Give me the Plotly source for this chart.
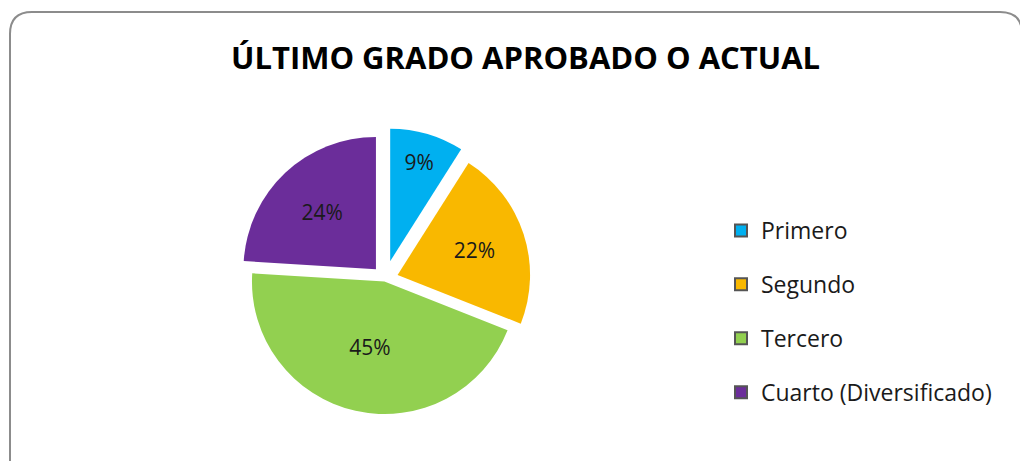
import plotly.graph_objects as go

categories = ["Primero", "Segundo", "Tercero", "Cuarto (Diversificado)"]
values = [9, 22, 45, 24]
colors = ["#00B0F0", "#F9B800", "#92D050", "#6B2D9A"]
pulls = [0.14, 0.1, 0.02, 0.1]
title_text = "ÚLTIMO GRADO APROBADO O ACTUAL"

W, H = 1028, 461
OFF = 8  # default page body margin


def px(x):
    return (x - OFF) / W


def py(y):
    return 1 - (y - OFF) / H


fig = go.Figure()
fig.add_trace(go.Pie(
    labels=categories, values=values, sort=False, direction="clockwise", rotation=0,
    marker=dict(colors=colors, line=dict(color="white", width=0)),
    pull=pulls, showlegend=False,
    texttemplate="%{percent:.0%}", textposition="inside", insidetextorientation="horizontal",
    textfont=dict(family="Open Sans", size=21, color="#1a1a1a"),
    hoverinfo="label+percent",
    domain=dict(x=[px(215), px(555)], y=[py(430), py(128)]),
))

for c, col in zip(categories, colors):
    fig.add_trace(go.Scatter(
        x=[None], y=[None], mode="markers", name=c, legendgroup=c,
        marker=dict(symbol="square", size=13, color=col, line=dict(color="#555", width=0.5)),
    ))

fig.add_shape(
    type="path", xref="paper", yref="paper", layer="below",
    path=(f"M {px(10)},{py(34)} Q {px(10)},{py(12)} {px(32)},{py(12)} "
          f"L {px(1000)},{py(12)} Q {px(1022)},{py(12)} {px(1022)},{py(34)} "
          f"L {px(1022)},{py(500)} L {px(10)},{py(500)} Z"),
    line=dict(color="#8c8c8c", width=2), fillcolor="white",
)

fig.add_annotation(
    text=f"<b>{title_text}</b>", xref="paper", yref="paper",
    x=px(525), y=py(57), xanchor="center", yanchor="middle", showarrow=False,
    font=dict(family="Open Sans", size=31, color="#000000"),
)

fig.update_layout(
    width=W, height=H, margin=dict(l=0, r=0, t=0, b=0),
    paper_bgcolor="white", plot_bgcolor="white",
    xaxis=dict(visible=False), yaxis=dict(visible=False),
    legend=dict(x=px(721), y=py(209), xanchor="left", yanchor="top",
                traceorder="grouped", tracegroupgap=21, itemwidth=30,
                font=dict(family="Open Sans", size=23, color="#1a1a1a"),
                itemsizing="constant", bgcolor="rgba(0,0,0,0)"),
    showlegend=True,
)

fig.write_html("out.html")
